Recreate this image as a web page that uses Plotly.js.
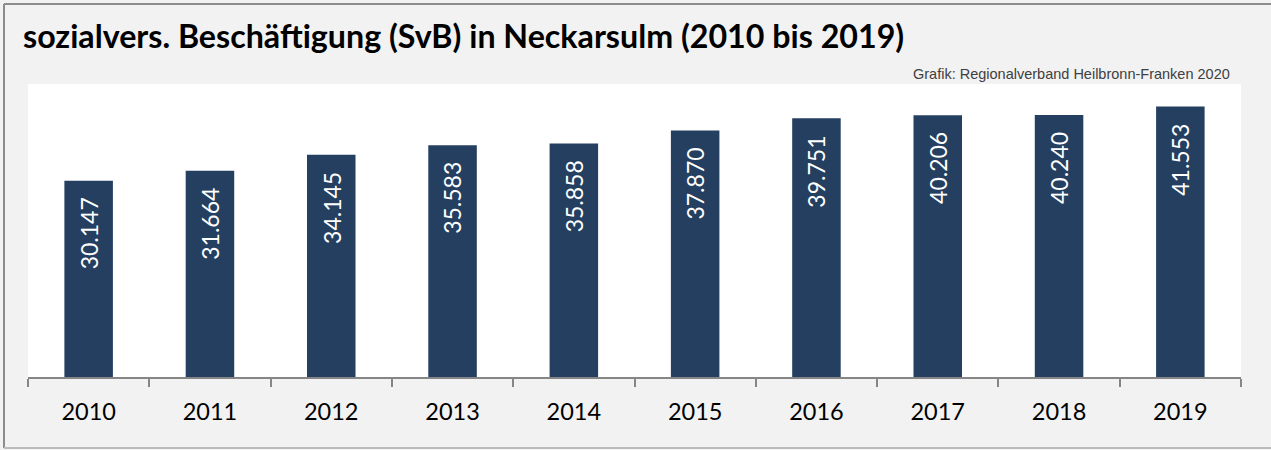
<!DOCTYPE html>
<html>
<head>
<meta charset="utf-8">
<script src="https://cdn.plot.ly/plotly-3.0.1.min.js"></script>
<style>html,body{margin:0;padding:0;background:#f2f2f2;}#chart{width:1271px;height:450px;}</style>
</head>
<body>
<div id="chart"></div>
<script>
var years = ["2010","2011","2012","2013","2014","2015","2016","2017","2018","2019"];
var employees = [30147, 31664, 34145, 35583, 35858, 37870, 39751, 40206, 40240, 41553];
var chartTitle = "sozialvers. Beschäftigung (SvB) in Neckarsulm (2010 bis 2019)";
var sourceNote = "Grafik: Regionalverband Heilbronn-Franken 2020";

var W = 1271, H = 450;
var mL = 28, mR = 30, mT = 84, mB = 73;
var pw = W - mL - mR, ph = H - mT - mB;
function px2x(x){ return (x - mL) / pw; }
function py2y(y){ return (H - mB - y) / ph; }

function fmt(v){ return String(v).replace(/\B(?=(\d{3})+(?!\d))/g, "."); }

var trace = {
  type: "bar",
  x: years,
  y: employees,
  marker: {color: "#243f60"},
  hoverinfo: "skip"
};

var annotations = years.map(function(yr, i){
  return {
    x: i, y: employees[i], xref: "x", yref: "y",
    text: fmt(employees[i]),
    showarrow: false, textangle: -90,
    xanchor: "center", yanchor: "top", yshift: -15,
    font: {family: "Lato, 'Open Sans', sans-serif", size: 23, color: "#ffffff"}
  };
});
annotations.push({
  xref: "paper", yref: "paper", x: px2x(1232), y: py2y(74),
  xanchor: "right", yanchor: "middle", showarrow: false,
  text: sourceNote,
  font: {family: "'Liberation Sans', Arial, sans-serif", size: 14.5, color: "#404040"}
});

var layout = {
  width: W, height: H,
  margin: {l: mL, r: mR, t: mT, b: mB, pad: 0},
  paper_bgcolor: "#f2f2f2",
  plot_bgcolor: "#ffffff",
  showlegend: false,
  bargap: 0.6,
  title: {
    text: "<b>" + chartTitle + "</b>",
    xref: "container", yref: "container",
    x: 23 / W, xanchor: "left",
    y: 1 - 37 / H, yanchor: "middle",
    font: {family: "Lato, 'Open Sans', sans-serif", size: 32.2, color: "#000000"}
  },
  xaxis: {
    type: "category",
    range: [-0.5, years.length - 0.5], autorange: false,
    showline: true, linecolor: "#868686", linewidth: 2,
    ticks: "outside", tickson: "boundaries", ticklen: 8, tickwidth: 2, tickcolor: "#868686",
    showgrid: false, zeroline: false, tickangle: 0,
    tickfont: {family: "Lato, 'Open Sans', sans-serif", size: 23.5, color: "#000000"},
    ticklabelstandoff: 13
  },
  yaxis: {
    range: [0, 45000], autorange: false, visible: false, showgrid: false, zeroline: false, fixedrange: true
  },
  annotations: annotations,
  shapes: [
    {type: "line", xref: "paper", yref: "paper", x0: px2x(4), x1: px2x(4), y0: py2y(4), y1: py2y(448), line: {color: "#8c8c8c", width: 2}},
    {type: "line", xref: "paper", yref: "paper", x0: px2x(4), x1: px2x(1275), y0: py2y(4), y1: py2y(4), line: {color: "#8c8c8c", width: 2}},
    {type: "line", xref: "paper", yref: "paper", x0: px2x(4), x1: px2x(1275), y0: py2y(448), y1: py2y(448), line: {color: "#bcbcbc", width: 2}}
  ]
};

Plotly.newPlot("chart", [trace], layout, {displayModeBar: false, staticPlot: true});
</script>
</body>
</html>
